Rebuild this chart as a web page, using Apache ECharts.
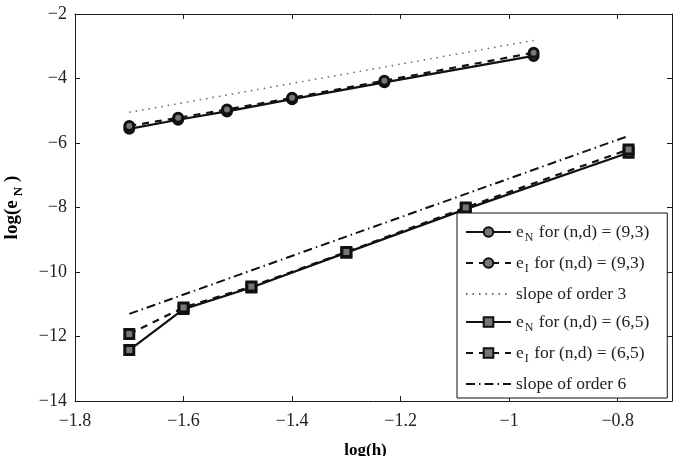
<!DOCTYPE html>
<html>
<head>
<meta charset="utf-8">
<title>convergence</title>
<style>
  html, body { margin: 0; padding: 0; background: #fff; }
  #container { width: 677px; height: 456px; }
</style>
</head>
<body>
<div id="container"></div>
<script type="text/javascript" src="https://cdn.jsdelivr.net/npm/echarts@6/dist/echarts.min.js"></script>
<script type="text/javascript">
    // log(h) values for the two test cases
    var xUpper = [-1.70, -1.61, -1.52, -1.40, -1.23, -0.955];
    var xLower = [-1.70, -1.60, -1.475, -1.30, -1.08, -0.78];

    // log of the errors
    var eN93 = [-5.56, -5.28, -5.02, -4.64, -4.12, -3.30];
    var eI93 = [-5.47, -5.22, -4.96, -4.60, -4.07, -3.20];
    var eN65 = [-12.42, -11.15, -10.48, -9.40, -8.05, -6.30];
    var eI65 = [-11.92, -11.10, -10.45, -9.38, -8.00, -6.20];

    // reference slopes
    var slope3X = [-1.70, -0.955];
    var slope3Y = [-5.05, -2.82];
    var slope6X = [-1.70, -0.78];
    var slope6Y = [-11.30, -5.78];

    var legendText = {
        eN93: '{t|e}{sub|N}{t| for (n,d) = (9,3)}',
        eI93: '{t|e}{sub|I}{t| for (n,d) = (9,3)}',
        slope3: '{t|slope of order 3}',
        eN65: '{t|e}{sub|N}{t| for (n,d) = (6,5)}',
        eI65: '{t|e}{sub|I}{t| for (n,d) = (6,5)}',
        slope6: '{t|slope of order 6}'
    };

    function pairs(xs, ys) {
        var out = [];
        for (var i = 0; i < xs.length; i++) {
            out.push([xs[i], ys[i]]);
        }
        return out;
    }

    function minus(v) {
        return String(v).replace('-', '\u2212');
    }

    var font = 'Liberation Serif';
    var dark = '#1a1a1a';

    var dom = document.getElementById('container');
    var myChart = echarts.init(dom);

    function mark(name, xs, ys, symbol, dashed) {
        return {
            name: name,
            type: 'line',
            data: pairs(xs, ys),
            symbol: symbol,
            symbolSize: 9,
            showSymbol: true,
            lineStyle: { color: '#111', width: 2.2, type: dashed ? [7, 6] : 'solid' },
            itemStyle: { color: '#777', borderColor: '#111', borderWidth: 3 },
            z: 3
        };
    }

    var option = {
        animation: false,
        backgroundColor: '#fff',
        grid: { left: 75, right: 5, top: 14, bottom: 55, outerBoundsMode: 'none', containLabel: false },
        xAxis: [
            {
                type: 'value',
                min: -1.8,
                max: -0.7,
                interval: 0.2,
                name: 'log(h)',
                nameLocation: 'middle',
                nameGap: 41,
                nameTextStyle: { fontFamily: font, fontSize: 17, fontWeight: 'bold', color: '#000', padding: [0, 16, 0, 0] },
                axisLine: { onZero: false, lineStyle: { color: dark, width: 1 } },
                axisTick: { inside: true, length: 5, lineStyle: { color: dark } },
                axisLabel: {
                    fontFamily: font, fontSize: 18, color: '#222', margin: 11,
                    showMaxLabel: false,
                    formatter: function (v) { return minus(Math.round(v * 10) / 10); }
                },
                splitLine: { show: false }
            },
            {
                type: 'value',
                position: 'top',
                min: -1.8,
                max: -0.7,
                interval: 0.2,
                axisLine: { onZero: false, lineStyle: { color: dark, width: 1 } },
                axisTick: { inside: true, length: 5, lineStyle: { color: dark } },
                axisLabel: { show: false },
                splitLine: { show: false }
            }
        ],
        yAxis: [
            {
                type: 'value',
                min: -14,
                max: -2,
                interval: 2,
                name: '{b|log(e}{s|N}{b|)}',
                nameLocation: 'middle',
                nameGap: 50,
                nameRotate: 90,
                nameTextStyle: {
                    rich: {
                        b: { fontFamily: font, fontSize: 19, fontWeight: 'bold', color: '#000', lineHeight: 26 },
                        s: { fontFamily: font, fontSize: 13, fontWeight: 'bold', color: '#000', lineHeight: 13, verticalAlign: 'bottom', padding: [0, 5, 0, 4] }
                    }
                },
                axisLine: { onZero: false, lineStyle: { color: dark, width: 1 } },
                axisTick: { inside: true, length: 5, lineStyle: { color: dark } },
                axisLabel: {
                    fontFamily: font, fontSize: 18, color: '#222', margin: 8,
                    formatter: function (v) { return minus(v); }
                },
                splitLine: { show: false }
            },
            {
                type: 'value',
                position: 'right',
                min: -14,
                max: -2,
                interval: 2,
                axisLine: { onZero: false, lineStyle: { color: dark, width: 1 } },
                axisTick: { inside: true, length: 5, lineStyle: { color: dark } },
                axisLabel: { show: false },
                splitLine: { show: false }
            }
        ],
        legend: {
            data: [
                'eN93', 'eI93',
                { name: 'slope3', itemStyle: { opacity: 0 } },
                'eN65', 'eI65',
                { name: 'slope6', itemStyle: { opacity: 0 } }
            ],
            orient: 'vertical',
            left: 457,
            top: 213,
            padding: [10, 18, 5, 8],
            itemWidth: 45,
            itemHeight: 12,
            itemGap: 10,
            selectedMode: false,
            backgroundColor: '#fff',
            borderColor: '#111',
            borderWidth: 1,
            formatter: function (name) { return legendText[name]; },
            textStyle: {
                rich: {
                    t: { fontFamily: font, fontSize: 17.5, color: '#222', lineHeight: 24 },
                    sub: { fontFamily: font, fontSize: 12, color: '#222', lineHeight: 12, verticalAlign: 'bottom', padding: [0, 1, 0, 1] }
                }
            }
        },
        series: [
            mark('eN93', xUpper, eN93, 'circle', false),
            mark('eI93', xUpper, eI93, 'circle', true),
            {
                name: 'slope3',
                type: 'line',
                data: pairs(slope3X, slope3Y),
                showSymbol: false,
                symbol: 'none',
                lineStyle: { color: '#666', width: 1.5, type: [1.5, 5] },
                itemStyle: { color: '#666' },
                z: 2
            },
            mark('eN65', xLower, eN65, 'rect', false),
            mark('eI65', xLower, eI65, 'rect', true),
            {
                name: 'slope6',
                type: 'line',
                data: pairs(slope6X, slope6Y),
                showSymbol: false,
                symbol: 'none',
                lineStyle: { color: '#111', width: 2, type: [9, 4, 1.5, 4] },
                itemStyle: { color: '#111' },
                z: 2
            }
        ]
    };

    if (option && typeof option === 'object') {
        myChart.setOption(option, true);
    }
</script>
</body>
</html>
